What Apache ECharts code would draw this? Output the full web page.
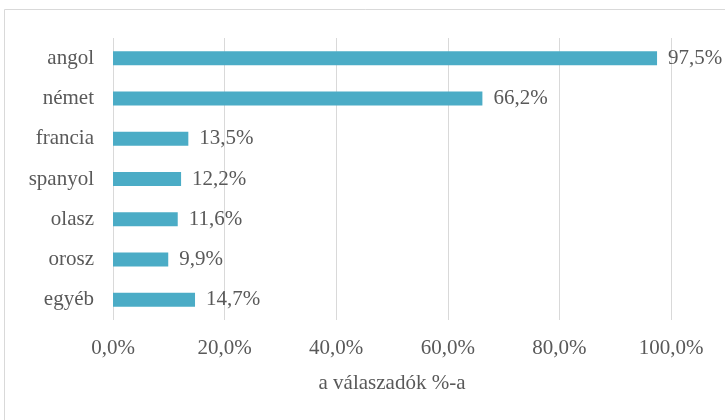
<!DOCTYPE html>
<html>
<head>
<meta charset="utf-8">
<script src="https://cdn.jsdelivr.net/npm/echarts@6/dist/echarts.min.js"></script>
<style>
  html, body { margin: 0; padding: 0; background: #fff; }
  #chart { width: 725px; height: 420px; }
</style>
</head>
<body>
<div id="chart"></div>
<script>
// nyelvek és arányok
const categories = ['angol', 'német', 'francia', 'spanyol', 'olasz', 'orosz', 'egyéb'];
const values = [97.5, 66.2, 13.5, 12.2, 11.6, 9.9, 14.7];
const axisName = 'a válaszadók %-a';

const font = '"Liberation Serif", "DejaVu Serif", serif';
const textColor = '#595959';
const fontSize = 21;

function fmt(v) {
    return v.toFixed(1).replace('.', ',') + '%';
}

const myChart = echarts.init(document.getElementById('chart'));

const option = {
    animation: false,
    graphic: [{
        type: 'rect',
        shape: { x: 4.5, y: 9.5, width: 740, height: 440 },
        style: { fill: 'none', stroke: '#d9d9d9', lineWidth: 1 },
        silent: true
    }],
    grid: { left: 113, right: 54, top: 38, bottom: 100 },
    xAxis: {
        type: 'value',
        min: 0,
        max: 100,
        interval: 20,
        axisLine: { show: false },
        axisTick: { show: false },
        splitLine: { lineStyle: { color: '#d9d9d9', width: 1 } },
        axisLabel: {
            formatter: fmt,
            color: textColor,
            fontFamily: font,
            fontSize: fontSize,
            margin: 18
        },
        name: axisName,
        nameLocation: 'middle',
        nameGap: 53,
        nameTextStyle: { color: textColor, fontFamily: font, fontSize: fontSize }
    },
    yAxis: {
        type: 'category',
        inverse: true,
        data: categories,
        axisLine: { show: false },
        axisTick: { show: false },
        axisLabel: {
            color: textColor,
            fontFamily: font,
            fontSize: fontSize,
            margin: 19
        }
    },
    series: [{
        type: 'bar',
        data: values,
        barWidth: 14,
        itemStyle: { color: '#4bacc6' },
        label: {
            show: true,
            position: 'right',
            distance: 11,
            formatter: p => fmt(p.value),
            color: textColor,
            fontFamily: font,
            fontSize: fontSize
        }
    }]
};

myChart.setOption(option);
</script>
</body>
</html>
